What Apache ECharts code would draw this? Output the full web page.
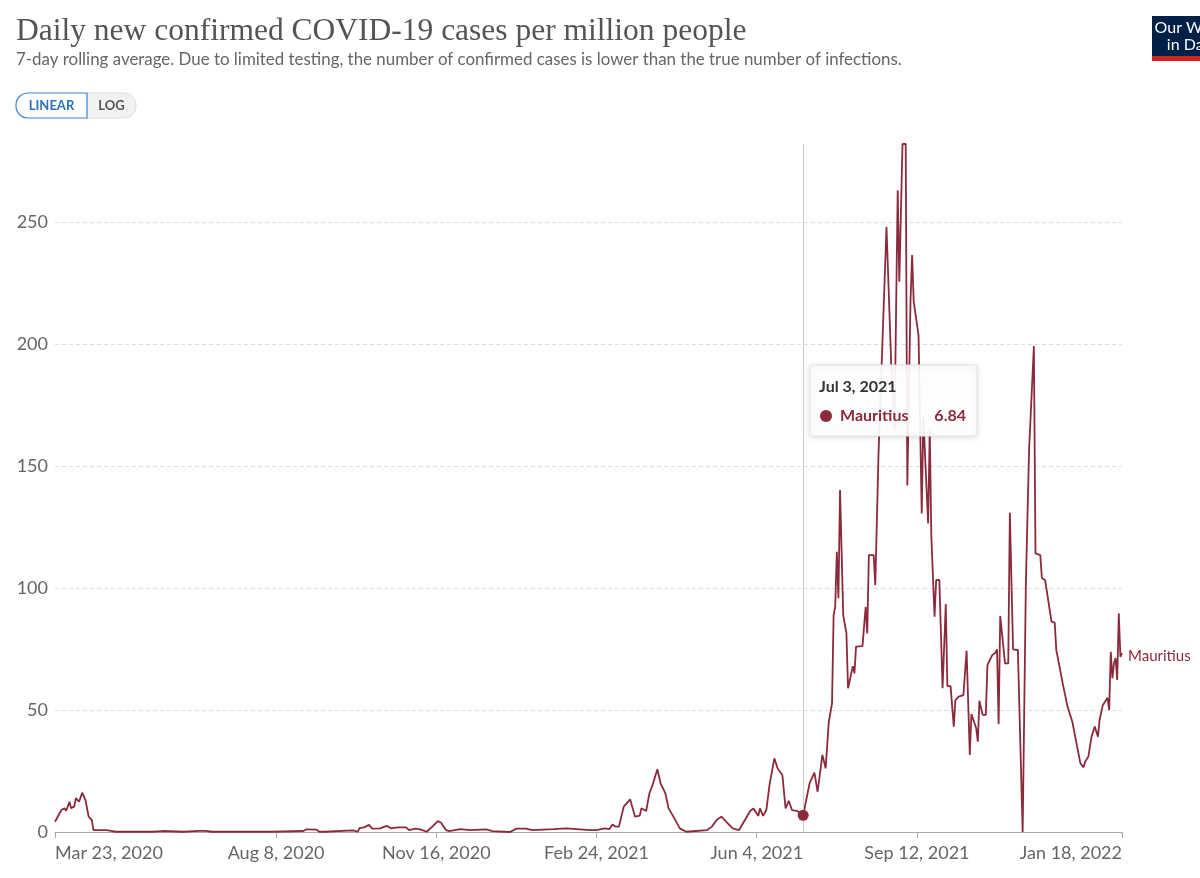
<!DOCTYPE html>
<html>
<head>
<meta charset="utf-8">
<script src="https://cdn.jsdelivr.net/npm/echarts@6/dist/echarts.min.js"></script>
<style>
  html, body { margin: 0; padding: 0; background: #fff; }
  #chart { width: 1200px; height: 878px; }
</style>
</head>
<body>
<div id="chart"></div>
<script>
// ---- Data (day offsets from Mar 23, 2020; 7-day rolling average per million) ----
const START = Date.UTC(2020, 2, 23);
const DAY = 86400000;
const seriesName = 'Mauritius';
const dayOffsets = [
  0, 1, 4, 6, 7, 9, 10, 12, 13, 15, 17, 19, 21, 23, 24, 32, 35, 38, 61, 67, 80, 90, 94, 98, 115, 136,
  155, 157, 163, 165, 168, 169, 186, 189, 190, 193, 196, 198, 203, 207, 210, 214, 219, 221, 225, 228,
  232, 235, 239, 241, 244, 246, 253, 259, 269, 273, 284, 288, 294, 298, 311, 319, 334, 338, 343, 346,
  348, 350, 352, 355, 359, 362, 365, 366, 369, 371, 373, 376, 378, 381, 383, 386, 390, 394, 407, 410,
  413, 416, 419, 423, 427, 430, 434, 436, 439, 440, 442, 444, 446, 449, 451, 454, 456, 458, 460, 463,
  467, 471, 474, 476, 479, 481, 483, 485, 486, 487, 488, 489, 490, 492, 494, 495, 496, 498, 499, 500,
  504, 506, 507, 508, 511, 512, 514, 519, 520, 522, 524, 526, 527, 528, 529, 531, 532, 534, 535, 536,
  537, 539, 541, 542, 545, 546, 547, 548, 549, 550, 552, 554, 556, 557, 559, 561, 562, 564, 567, 569,
  571, 572, 573, 575, 576, 577, 579, 581, 582, 583, 585, 587, 588, 589, 590, 593, 595, 596, 598, 601,
  604, 606, 608, 611, 612, 615, 616, 618, 622, 624, 625, 629, 632, 635, 638, 640, 642, 643, 645, 647,
  648, 649, 651, 652, 654, 657, 658, 659, 660, 661, 662, 663, 664, 665, 666
];
const values = [
  4.2, 4.9, 9, 9.7, 8.7, 12.4, 9.8, 10.4, 13.9, 12.4, 16.1, 13.1, 6.3, 4.9, 0.8, 0.8, 0.5, 0.1, 0.1, 0.4, 0.1, 0.5, 0.5, 0.1, 0.1, 0.1,
  0.4, 1.1, 1.0, 0.1, 0.1, 0.8, 0.7, 0.1, 1.6, 1.9, 2.9, 1.4, 1.5, 2.5, 1.5, 1.9, 1.9, 0.8, 1.4, 1.1,
  0.1, 1.9, 4.5, 3.8, 0.8, 0.4, 1.2, 0.8, 1.1, 0.4, 0, 1.4, 1.4, 0.8, 1.2, 1.5, 0.8, 0.8, 1.5, 1.2,
  3.1, 2.2, 2.2, 10.4, 13.4, 6.3, 6.7, 9.7, 8.6, 15.8, 19.3, 25.7, 19.9, 15.8, 9.7, 6.3, 1.5, 0.1, 0.8, 2.2,
  4.9, 6.3, 4.2, 1.5, 0.8, 4.2, 8.7, 9.6, 6.6, 9.7, 6.6, 9.0, 19.3, 30.2, 26.1, 23.4, 9.7, 12.8, 9.0, 8.7,
  6.84, 20, 24.3, 16.5, 31.6, 26.1, 45.2, 52.7, 88.9, 92.3, 114.9, 95.8, 140.2, 88.9, 81.4, 58.9, 58.9, 68, 65, 76,
  76.2, 92.3, 81.4, 113.5, 113.5, 101.2, 154.5, 248, 247.5, 191, 165, 263, 225.5, 225.5, 282, 282, 142, 218, 236.5, 217.3,
  217, 203.7, 130.6, 170, 126.5, 165, 121, 121, 88.2, 103.3, 103.3, 58.9, 93.4, 59.8, 59.8, 43.2, 54.1, 55.5, 56.1, 74.3,
  31.6, 48.4, 48.4, 42.5, 37, 53.8, 48, 48, 68.4, 69.1, 72.5, 73.5, 74.9, 44.3, 88.5, 69.1, 69.1, 130.9, 74.9, 74.6,
  0, 101.9, 156.6, 199.2, 114.2, 113.5, 104, 103.3, 86.2, 85.8, 74.6, 60.9, 51.4, 45.2, 35, 28.2, 26.5, 28.8, 30.9, 39.1,
  39.8, 43.2, 39.1, 45.9, 52, 55, 50, 73.9, 63, 69.2, 71.3, 62.3, 89.6, 71.8, 73.3
];
const xTickDates = ['2020-03-23', '2020-08-08', '2020-11-16', '2021-02-24', '2021-06-04', '2021-09-12', '2022-01-18'];
const yMax = 282;
const yInterval = 50;
const hoverDay = 467; // Jul 3, 2021

// ---- Build ----
const COLOR = '#8b2a3b';
const MONTHS = ['Jan','Feb','Mar','Apr','May','Jun','Jul','Aug','Sep','Oct','Nov','Dec'];
function fmt(ts) {
  const d = new Date(ts);
  return MONTHS[d.getUTCMonth()] + ' ' + d.getUTCDate() + ', ' + d.getUTCFullYear();
}
const data = dayOffsets.map((d, i) => [START + d * DAY, values[i]]);
const xTicks = xTickDates.map(s => Date.parse(s + 'T00:00:00Z'));
const hoverIdx = dayOffsets.indexOf(hoverDay);
const hoverTs = START + hoverDay * DAY;
const hoverVal = values[hoverIdx];

const chart = echarts.init(document.getElementById('chart'), null, { renderer: 'canvas' });
chart.setOption({
  animation: false,
  backgroundColor: '#fff',
  grid: { left: 55, right: 78, top: 144, bottom: 46, containLabel: false },
  xAxis: {
    type: 'value',
    min: xTicks[0],
    max: xTicks[xTicks.length - 1],
    axisLine: { show: true, lineStyle: { color: '#aaa', width: 1 } },
    axisTick: { show: true, customValues: xTicks, length: 6, lineStyle: { color: '#aaa' } },
    splitLine: { show: false },
    axisLabel: {
      customValues: xTicks,
      formatter: v => fmt(v),
      color: '#666',
      fontFamily: 'Lato',
      fontSize: 18,
      margin: 12,
      alignMinLabel: 'left',
      alignMaxLabel: 'right'
    }
  },
  yAxis: {
    type: 'value',
    min: 0,
    max: yMax,
    interval: yInterval,
    axisLine: { show: false },
    axisTick: { show: false },
    axisLabel: { color: '#666', fontFamily: 'Lato', fontSize: 18, margin: 7, showMaxLabel: false },
    splitLine: { show: true, showMinLine: false, showMaxLine: false, lineStyle: { color: '#ddd', type: [4, 3], width: 1 } }
  },
  series: [{
    name: seriesName,
    type: 'line',
    z: 2,
    data: data,
    showSymbol: false,
    clip: false,
    lineStyle: { color: COLOR, width: 1.8 },
    itemStyle: { color: COLOR },
    endLabel: { show: true, formatter: '{a}', color: COLOR, fontFamily: 'Lato', fontSize: 15, distance: 6, offset: [0, 3] },
    markLine: {
      silent: true,
      symbol: 'none',
      label: { show: false },
      lineStyle: { color: '#ccc', type: 'solid', width: 1 },
      data: [{ xAxis: hoverTs }]
    },
    markPoint: {
      silent: true,
      symbol: 'circle',
      symbolSize: 11,
      itemStyle: { color: COLOR },
      label: { show: false },
      data: [{ coord: [hoverTs, hoverVal] }]
    }
  }],
  graphic: [
    { type: 'text', left: 16, top: 16, style: { text: 'Daily new confirmed COVID-19 cases per million people', font: '31.5px "Liberation Serif"', fill: '#555' } },
    { type: 'text', left: 16, top: 51, style: { text: '7-day rolling average. Due to limited testing, the number of confirmed cases is lower than the true number of infections.', font: '16.9px Lato', fill: '#666' } },
    // scale toggle
    { type: 'rect', shape: { x: 87, y: 93, width: 49, height: 25, r: [0, 12, 12, 0] }, style: { fill: '#f2f2f2', stroke: '#ddd', lineWidth: 1 } },
    { type: 'rect', shape: { x: 16, y: 93, width: 71, height: 25, r: [12, 0, 0, 12] }, style: { fill: '#fff', stroke: '#3b84d1', lineWidth: 1.2 } },
    { type: 'text', x: 51.5, y: 105.5, style: { text: 'LINEAR', font: 'bold 13px Lato', fill: '#2d6fb8', align: 'center', verticalAlign: 'middle' } },
    { type: 'text', x: 111.5, y: 105.5, style: { text: 'LOG', font: 'bold 13px Lato', fill: '#555', align: 'center', verticalAlign: 'middle' } },
    // logo
    { type: 'rect', shape: { x: 1152, y: 16, width: 80, height: 40 }, style: { fill: '#002147' } },
    { type: 'rect', shape: { x: 1152, y: 56, width: 80, height: 5 }, style: { fill: '#ce261e' } },
    { type: 'text', x: 1192, y: 28, style: { text: 'Our World', font: '16px Lato', fill: '#fff', align: 'center', verticalAlign: 'middle' } },
    { type: 'text', x: 1192, y: 45, style: { text: 'in Data', font: '16px Lato', fill: '#fff', align: 'center', verticalAlign: 'middle' } },
    // tooltip
    { type: 'rect', zlevel: 2, z: 100, shape: { x: 810, y: 365, width: 167, height: 71, r: 2 }, style: { fill: 'rgba(255,255,255,0.92)', stroke: '#e4e4e4', lineWidth: 1, shadowBlur: 6, shadowColor: 'rgba(0,0,0,0.15)', shadowOffsetY: 1 } },
    { type: 'text', zlevel: 2, z: 101, x: 819, y: 387, style: { text: fmt(hoverTs), font: 'bold 16px Lato', fill: '#333', verticalAlign: 'middle' } },
    { type: 'circle', zlevel: 2, z: 101, shape: { cx: 826, cy: 416, r: 6 }, style: { fill: COLOR } },
    { type: 'text', zlevel: 2, z: 101, x: 840, y: 416, style: { text: seriesName, font: 'bold 16px Lato', fill: COLOR, verticalAlign: 'middle' } },
    { type: 'text', zlevel: 2, z: 101, x: 966, y: 416, style: { text: String(hoverVal), font: 'bold 16px Lato', fill: COLOR, align: 'right', verticalAlign: 'middle' } }
  ]
});
</script>
</body>
</html>
